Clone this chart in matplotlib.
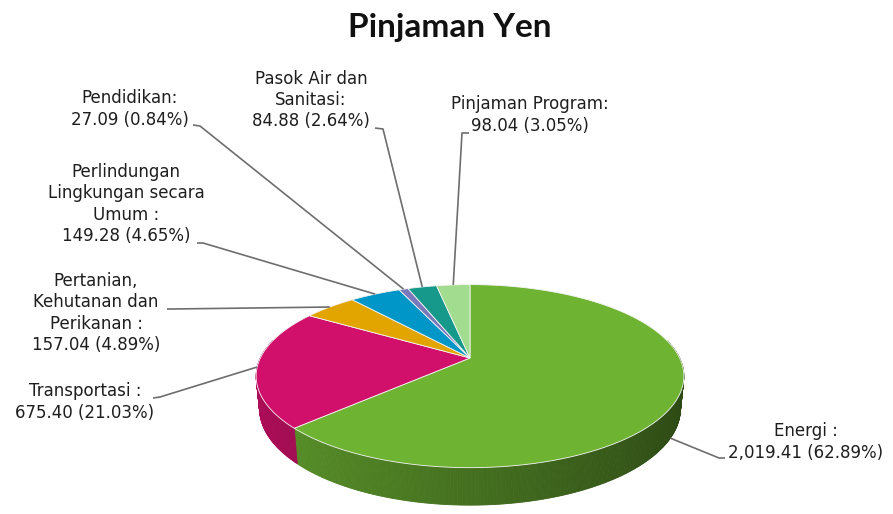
import numpy as np
import matplotlib

matplotlib.use("Agg")
import matplotlib.pyplot as plt
from matplotlib.colors import to_rgb
from matplotlib.patches import Polygon

# data, clockwise from 12 o'clock
names = ["Energi :", "Transportasi :", "Pertanian,\nKehutanan dan\nPerikanan :",
         "Perlindungan\nLingkungan secara\nUmum :", "Pendidikan:",
         "Pasok Air dan\nSanitasi:", "Pinjaman Program:"]
values = [2019.41, 675.40, 157.04, 149.28, 27.09, 84.88, 98.04]
percents = [62.89, 21.03, 4.89, 4.65, 0.84, 2.64, 3.05]
colors = ["#6eb432", "#d0106a", "#e2a500", "#0096c8", "#7a78bc", "#16998a", "#a2dc8e"]

# label layout (pixel positions of text block centres and leader ends)
label_pos = [(806, 442), (85, 402), (96, 313), (126, 204), (130, 109), (311, 100), (530, 115)]
leader_end = [(725, 458), (153, 398), (167, 309), (197, 243), (193, 125), (375, 128), (469, 133)]
leader_elbow = [(719, 458), (160, 397), (172, 309), (203, 243), (200, 126), (383, 129), (462, 133)]
anchor_z = [-1.0, 0.0, 0.0, 0.0, 0.0, 0.0, 0.0]
anchor_shift = [-5, 0, 0, 0, 0, 0, 0]

# fake 3d camera
EL = np.radians(24.8)
CAM_D = 4.58
FOCAL = 960.0
CX, CY = 470, 358
THICK = 0.17


def project(x, y, z):
    depth = CAM_D + y * np.cos(EL) - z * np.sin(EL)
    up = y * np.sin(EL) + z * np.cos(EL)
    return CX + FOCAL * x / depth, CY - FOCAL * up / depth


fig = plt.figure(figsize=(8.93, 5.14), dpi=100)
ax = fig.add_axes([0, 0, 1, 1])
ax.set_xlim(0, 893)
ax.set_ylim(514, 0)
ax.axis("off")

total = sum(values)
start = 90.0
bounds = []
for v in values:
    end = start - 360.0 * v / total
    bounds.append((start, end))
    start = end

# side walls
for (a0, a1), col in zip(bounds, colors):
    base = np.array(to_rgb(col))
    th = np.radians(np.linspace(a0, a1, max(int(abs(a0 - a1) * 2), 4)))
    for t0, t1 in zip(th[:-1], th[1:]):
        if np.sin(t0) > 0.2 and np.sin(t1) > 0.2:
            continue
        tm = 0.5 * (t0 + t1)
        shade = np.clip(0.62 - 0.22 * np.cos(tm), 0.3, 1.0)
        c = base * shade
        pts = [project(np.cos(t0), np.sin(t0), 0), project(np.cos(t1), np.sin(t1), 0),
               project(np.cos(t1), np.sin(t1), -THICK), project(np.cos(t0), np.sin(t0), -THICK)]
        ax.add_patch(Polygon(pts, closed=True, facecolor=c, edgecolor=c, lw=0.6, zorder=1))

# top faces
for (a0, a1), col in zip(bounds, colors):
    th = np.radians(np.linspace(a0, a1, max(int(abs(a0 - a1) * 2), 4)))
    pts = [project(0, 0, 0)] + [project(np.cos(t), np.sin(t), 0) for t in th]
    ax.add_patch(Polygon(pts, closed=True, facecolor=col, edgecolor="#f4f4f4", lw=0.6, zorder=2))

# labels and leaders
for i, ((a0, a1), name) in enumerate(zip(bounds, names)):
    tm = np.radians(0.5 * (a0 + a1) + anchor_shift[i])
    anchor = project(np.cos(tm), np.sin(tm), anchor_z[i] * THICK)
    xs = [anchor[0], leader_elbow[i][0], leader_end[i][0]]
    ys = [anchor[1], leader_elbow[i][1], leader_end[i][1]]
    ax.plot(xs, ys, color="#6e6e6e", lw=1.2, zorder=3, solid_capstyle="butt")
    txt = f"{name}\n{values[i]:,.2f} ({percents[i]:.2f}%)"
    ax.text(label_pos[i][0], label_pos[i][1], txt, ha="center", va="center",
            fontsize=12, family="DejaVu Sans", color="#1e1e1e", linespacing=1.22, zorder=4)

fig.text(0.504, 1 - 27 / 514, "Pinjaman Yen", ha="center", va="center",
         fontsize=24, fontweight="bold", family="Lato", color="#111111")

fig.savefig("out.png", dpi=100)
